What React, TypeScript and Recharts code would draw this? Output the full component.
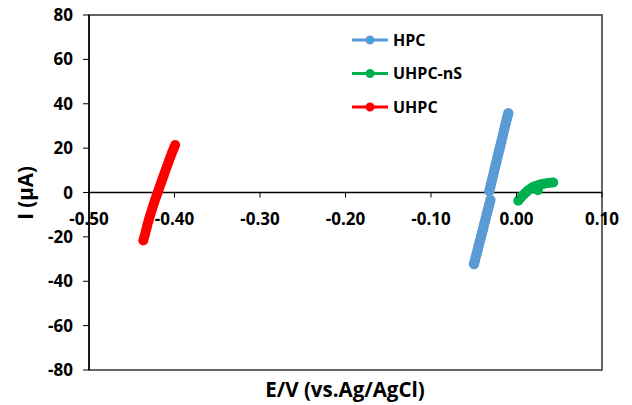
import React from "react";
import {
  Label,
  Legend,
  ReferenceArea,
  ReferenceLine,
  Scatter,
  ScatterChart,
  XAxis,
  YAxis,
} from "recharts";

document.body.style.margin = "0";

// E (V) vs I (uA)
const hpc: [number, number][] = [
  [-0.0497, -32.2], [-0.0486, -30.6], [-0.0476, -29.0], [-0.0465, -27.4], [-0.0454, -25.8],
  [-0.0444, -24.2], [-0.0433, -22.6], [-0.0422, -21.0], [-0.0412, -19.4], [-0.0401, -17.8],
  [-0.0390, -16.2], [-0.0380, -14.6], [-0.0369, -13.0], [-0.0358, -11.4], [-0.0348, -9.8],
  [-0.0337, -8.2], [-0.0326, -6.6], [-0.0316, -5.0], [-0.0305, -3.4],
  [-0.0318, 0.7], [-0.0307, 2.4], [-0.0297, 4.1], [-0.0286, 5.8], [-0.0275, 7.5],
  [-0.0264, 9.2], [-0.0254, 10.9], [-0.0243, 12.6], [-0.0232, 14.3], [-0.0222, 16.0],
  [-0.0211, 17.7], [-0.0200, 19.4], [-0.0189, 21.1], [-0.0179, 22.8], [-0.0168, 24.5],
  [-0.0157, 26.2], [-0.0147, 27.9], [-0.0136, 29.6], [-0.0125, 31.3], [-0.0114, 33.0],
  [-0.0105, 34.4], [-0.0096, 35.7],
];

const uhpcNs: [number, number][] = [
  [0.0021, -3.7], [0.0045, -2.6], [0.0070, -1.5], [0.0095, -0.5], [0.0120, 0.4],
  [0.0145, 1.2], [0.0170, 1.9], [0.0195, 2.5], [0.0220, 2.9], [0.0250, 3.3],
  [0.0280, 3.6], [0.0310, 3.9], [0.0340, 4.1], [0.0370, 4.3], [0.0400, 4.4],
  [0.0430, 4.5], [0.0250, 1.0],
];

const uhpc: [number, number][] = [
  [-0.4365, -21.6], [-0.4355, -20.2], [-0.4345, -18.9], [-0.4336, -17.5], [-0.4326, -16.0],
  [-0.4317, -14.6], [-0.4306, -13.1], [-0.4296, -11.7], [-0.4285, -10.3], [-0.4274, -8.9],
  [-0.4262, -7.5], [-0.4250, -6.0], [-0.4238, -4.6], [-0.4226, -3.2], [-0.4213, -1.8],
  [-0.4200, -0.4], [-0.4188, 0.9], [-0.4176, 2.3], [-0.4164, 3.6], [-0.4152, 4.9],
  [-0.4140, 6.2], [-0.4127, 7.6], [-0.4114, 9.0], [-0.4101, 10.4], [-0.4088, 11.8],
  [-0.4075, 13.2], [-0.4062, 14.6], [-0.4048, 16.0], [-0.4034, 17.4], [-0.4020, 18.8],
  [-0.4006, 20.1], [-0.3992, 21.4],
];

const xTicks = [-0.5, -0.4, -0.3, -0.2, -0.1, 0, 0.1];
const yTicks = [-80, -60, -40, -20, 0, 20, 40, 60, 80];

const W = 632;
const H = 405;
const TOP = 15;
const PLOT_H = 355;
const ZERO_Y = TOP + PLOT_H / 2;
const FONT = "'Open Sans', sans-serif";

const series = [
  { name: "HPC", data: hpc, line: "#5B9BD5", fill: "#00B0F0", stroke: "#5B9BD5" },
  { name: "UHPC-nS", data: uhpcNs, line: "#00B050", fill: "#00B050", stroke: "#00B050" },
  { name: "UHPC", data: uhpc, line: "#FF0000", fill: "#FF0000", stroke: "#FF0000" },
];

const toPoints = (d: [number, number][]) => d.map(([x, y]) => ({ x, y }));

function XTick(props: any) {
  const { x, payload } = props;
  return (
    <g>
      <line x1={x} x2={x} y1={ZERO_Y} y2={ZERO_Y + 5} stroke="#000" />
      <text x={x} y={ZERO_Y + 32} textAnchor="middle" fontSize={17} fontWeight="bold" fontFamily={FONT} fill="#000">
        {payload.value.toFixed(2)}
      </text>
    </g>
  );
}

function LegendBox() {
  return (
    <svg width={160} height={100}>
      {series.map((s, i) => {
        const cy = 12 + i * 33.5;
        return (
          <g key={s.name}>
            <line x1={6} x2={42} y1={cy} y2={cy} stroke={s.line} strokeWidth={3} />
            <circle cx={24} cy={cy} r={3} fill={s.fill} stroke={s.stroke} strokeWidth={3} />
            <text x={47} y={cy} dy="0.36em" fontSize={16} fontWeight="bold" fontFamily={FONT} fill="#000">
              {s.name}
            </text>
          </g>
        );
      })}
    </svg>
  );
}

export default function App() {
  return (
    <ScatterChart width={W} height={H} margin={{ top: TOP, right: 30, left: 0, bottom: 0 }}>
      <ReferenceArea x1={-0.5} x2={0.1} y1={-80} y2={80} fill="none" stroke="#333" strokeWidth={1.5} />
      <XAxis
        type="number"
        dataKey="x"
        domain={[-0.5, 0.1]}
        ticks={xTicks}
        height={35}
        axisLine={false}
        tickLine={false}
        tick={<XTick />}
        interval={0}
        allowDataOverflow
      >
        <Label
          content={() => (
            <text x={345} y={397} textAnchor="middle" fontSize={20.5} fontWeight="bold" fontFamily={FONT} fill="#000">
              E/V (vs.Ag/AgCl)
            </text>
          )}
        />
      </XAxis>
      <YAxis
        type="number"
        dataKey="y"
        domain={[-80, 80]}
        ticks={yTicks}
        width={89}
        interval={0}
        tickSize={6}
        tickMargin={10}
        axisLine={{ stroke: "#000", strokeWidth: 1.5 }}
        tickLine={{ stroke: "#000" }}
        tick={{ fontSize: 17, fontWeight: "bold", fontFamily: FONT, fill: "#000" }}
      >
        <Label
          content={() => (
            <text
              x={25}
              y={193}
              transform="rotate(-90, 25, 193)"
              textAnchor="middle"
              dominantBaseline="central"
              fontSize={20.5}
              fontWeight="bold"
              fontFamily={FONT}
              fill="#000"
            >
              I (µA)
            </text>
          )}
        />
      </YAxis>
      <ReferenceLine y={0} stroke="#000" strokeWidth={1.5} />
      <Legend
        layout="vertical"
        align="center"
        verticalAlign="middle"
        content={() => <LegendBox />}
        wrapperStyle={{ top: 28, left: 346, width: 160, height: 100 }}
      />
      {series.map((s) => (
        <Scatter
          key={s.name}
          name={s.name}
          data={toPoints(s.data)}
          line={{ stroke: s.line, strokeWidth: 3 }}
          lineType="joint"
          isAnimationActive={false}
          shape={(p: any) =>
            s.name === "HPC" ? (
              <circle cx={p.cx} cy={p.cy} r={3} fill={s.fill} stroke={s.stroke} strokeWidth={4.5} />
            ) : (
              <circle cx={p.cx} cy={p.cy} r={5} fill={s.fill} />
            )
          }
        />
      ))}
    </ScatterChart>
  );
}
